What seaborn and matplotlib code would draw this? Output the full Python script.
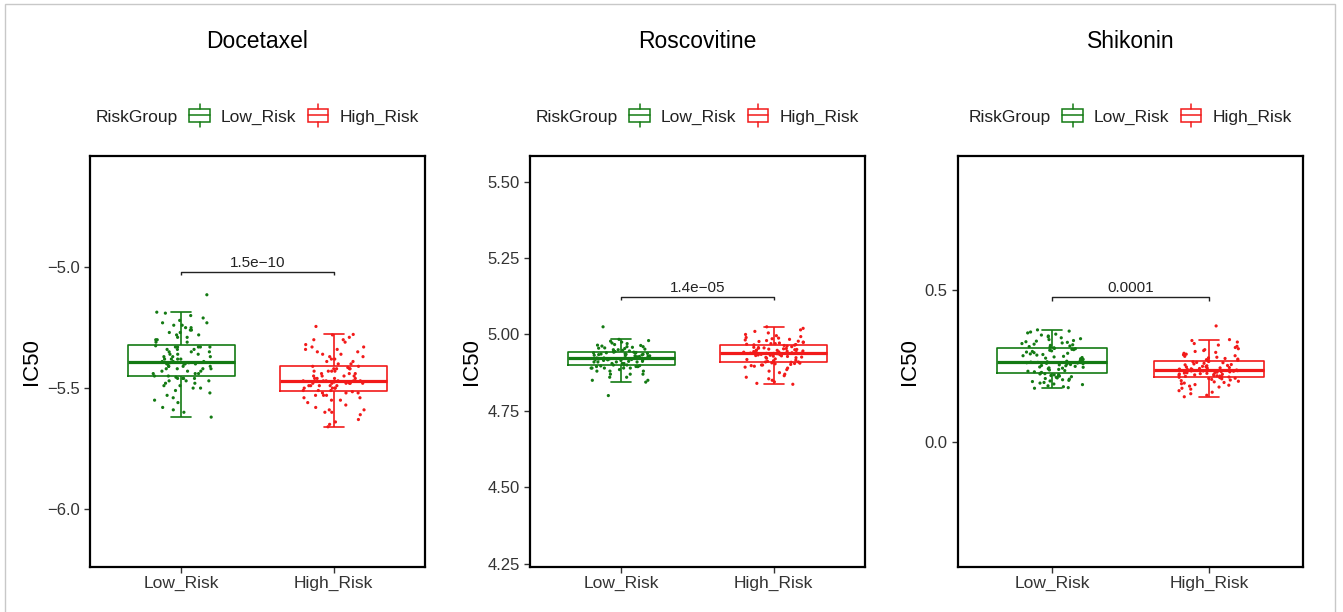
import numpy as np
import pandas as pd
import matplotlib
matplotlib.use("Agg")
import matplotlib.pyplot as plt
import seaborn as sns
from matplotlib.legend_handler import HandlerBase
from matplotlib.patches import Rectangle, Patch
from matplotlib.lines import Line2D
from matplotlib.ticker import FuncFormatter

sns.set_theme(style="white")
plt.rcParams["font.family"] = ["Liberation Sans", "DejaVu Sans"]

# ---------------- data ----------------
drugs = ["Docetaxel", "Roscovitine", "Shikonin"]
groups = ["Low_Risk", "High_Risk"]

docetaxel_low = [
    -5.62, -5.60, -5.59, -5.58, -5.56, -5.55, -5.54, -5.53, -5.52, -5.51, -5.50, -5.50,
    -5.49, -5.49, -5.48, -5.48, -5.47, -5.47, -5.47, -5.46, -5.46, -5.46, -5.46, -5.455,
    -5.45, -5.45, -5.44, -5.44, -5.44, -5.43, -5.43, -5.43, -5.42, -5.42, -5.42, -5.42,
    -5.41, -5.41, -5.41, -5.41, -5.40, -5.40, -5.40, -5.40, -5.40, -5.395, -5.395, -5.39,
    -5.39, -5.39, -5.38, -5.38, -5.38, -5.38, -5.37, -5.37, -5.37, -5.36, -5.36, -5.36,
    -5.35, -5.35, -5.35, -5.34, -5.34, -5.34, -5.33, -5.33, -5.33, -5.33, -5.33, -5.325,
    -5.31, -5.31, -5.30, -5.30, -5.29, -5.29, -5.28, -5.28, -5.27, -5.27, -5.26, -5.26,
    -5.25, -5.25, -5.24, -5.24, -5.23, -5.23, -5.22, -5.21, -5.20, -5.19, -5.186, -5.114,
]
docetaxel_high = [
    -5.66, -5.65, -5.64, -5.63, -5.61, -5.60, -5.60, -5.59, -5.59, -5.58, -5.57, -5.56,
    -5.55, -5.55, -5.54, -5.54, -5.53, -5.53, -5.53, -5.52, -5.52, -5.52, -5.515, -5.51,
    -5.51, -5.51, -5.50, -5.50, -5.50, -5.50, -5.49, -5.49, -5.49, -5.49, -5.49, -5.48,
    -5.48, -5.48, -5.48, -5.48, -5.48, -5.475, -5.475, -5.475, -5.47, -5.47, -5.47, -5.47,
    -5.47, -5.47, -5.46, -5.46, -5.46, -5.46, -5.45, -5.45, -5.45, -5.45, -5.44, -5.44,
    -5.44, -5.43, -5.43, -5.43, -5.43, -5.42, -5.42, -5.42, -5.42, -5.415, -5.41, -5.41,
    -5.40, -5.40, -5.39, -5.39, -5.38, -5.38, -5.37, -5.37, -5.36, -5.36, -5.35, -5.35,
    -5.34, -5.34, -5.33, -5.33, -5.32, -5.31, -5.30, -5.30, -5.29, -5.28, -5.278, -5.245,
]
roscovitine_low = [
    4.80, 4.844, 4.85, 4.85, 4.86, 4.86, 4.87, 4.87, 4.87, 4.88, 4.88, 4.88,
    4.885, 4.89, 4.89, 4.89, 4.89, 4.89, 4.895, 4.895, 4.895, 4.895, 4.897, 4.898,
    4.90, 4.90, 4.90, 4.905, 4.905, 4.905, 4.91, 4.91, 4.91, 4.91, 4.912, 4.912,
    4.915, 4.915, 4.915, 4.917, 4.918, 4.918, 4.92, 4.92, 4.92, 4.921, 4.922, 4.923,
    4.923, 4.924, 4.925, 4.926, 4.927, 4.928, 4.929, 4.93, 4.93, 4.931, 4.932, 4.933,
    4.934, 4.935, 4.935, 4.936, 4.937, 4.938, 4.939, 4.94, 4.94, 4.941, 4.942, 4.942,
    4.944, 4.945, 4.946, 4.948, 4.95, 4.95, 4.952, 4.954, 4.955, 4.956, 4.958, 4.96,
    4.96, 4.962, 4.964, 4.965, 4.967, 4.97, 4.972, 4.975, 4.978, 4.98, 4.984, 5.025,
]
roscovitine_high = [
    4.837, 4.84, 4.845, 4.85, 4.855, 4.86, 4.865, 4.87, 4.875, 4.88, 4.885, 4.89,
    4.893, 4.896, 4.898, 4.90, 4.90, 4.902, 4.904, 4.905, 4.906, 4.907, 4.909, 4.91,
    4.91, 4.912, 4.914, 4.916, 4.918, 4.92, 4.922, 4.924, 4.925, 4.926, 4.928, 4.929,
    4.93, 4.931, 4.932, 4.933, 4.934, 4.935, 4.936, 4.937, 4.937, 4.938, 4.938, 4.939,
    4.939, 4.94, 4.941, 4.942, 4.943, 4.944, 4.945, 4.946, 4.947, 4.948, 4.949, 4.95,
    4.951, 4.952, 4.953, 4.954, 4.955, 4.956, 4.957, 4.958, 4.96, 4.962, 4.964, 4.965,
    4.966, 4.967, 4.968, 4.97, 4.97, 4.972, 4.974, 4.975, 4.977, 4.978, 4.98, 4.982,
    4.984, 4.986, 4.988, 4.99, 4.993, 4.996, 5.0, 5.005, 5.01, 5.015, 5.02, 5.025,
]
shikonin_low = [
    0.178, 0.18, 0.183, 0.186, 0.19, 0.192, 0.195, 0.197, 0.2, 0.202, 0.204, 0.206,
    0.208, 0.21, 0.212, 0.214, 0.216, 0.218, 0.219, 0.22, 0.222, 0.223, 0.225, 0.226,
    0.228, 0.23, 0.232, 0.234, 0.236, 0.238, 0.24, 0.242, 0.244, 0.245, 0.247, 0.248,
    0.25, 0.252, 0.253, 0.255, 0.256, 0.258, 0.259, 0.26, 0.261, 0.262, 0.263, 0.264,
    0.265, 0.267, 0.269, 0.271, 0.273, 0.275, 0.277, 0.279, 0.281, 0.283, 0.285, 0.287,
    0.289, 0.291, 0.293, 0.295, 0.297, 0.299, 0.301, 0.303, 0.305, 0.306, 0.308, 0.309,
    0.311, 0.313, 0.315, 0.317, 0.319, 0.321, 0.323, 0.325, 0.327, 0.329, 0.331, 0.333,
    0.335, 0.338, 0.341, 0.344, 0.347, 0.35, 0.353, 0.356, 0.36, 0.363, 0.366, 0.37,
]
shikonin_high = [
    0.15, 0.155, 0.16, 0.165, 0.17, 0.175, 0.178, 0.182, 0.185, 0.188, 0.19, 0.193,
    0.195, 0.197, 0.199, 0.201, 0.203, 0.205, 0.207, 0.209, 0.21, 0.211, 0.213, 0.214,
    0.215, 0.216, 0.217, 0.218, 0.219, 0.22, 0.221, 0.222, 0.223, 0.224, 0.225, 0.226,
    0.227, 0.228, 0.229, 0.23, 0.231, 0.232, 0.232, 0.233, 0.234, 0.235, 0.235, 0.236,
    0.237, 0.238, 0.239, 0.24, 0.241, 0.242, 0.243, 0.244, 0.245, 0.246, 0.248, 0.249,
    0.25, 0.252, 0.253, 0.255, 0.256, 0.258, 0.26, 0.262, 0.263, 0.265, 0.266, 0.268,
    0.27, 0.272, 0.274, 0.276, 0.278, 0.28, 0.283, 0.285, 0.288, 0.29, 0.293, 0.296,
    0.299, 0.302, 0.305, 0.308, 0.312, 0.316, 0.32, 0.325, 0.33, 0.335, 0.338, 0.383,
]

pvalues = ["1.5e\u221210", "1.4e\u221205", "0.0001"]
bracket_y = [-5.02, 5.122, 0.477]
yticks = [[-6.0, -5.5, -5.0], [4.25, 4.50, 4.75, 5.00, 5.25, 5.50], [0.0, 0.5]]
ytick_fmt = ["{:.1f}", "{:.2f}", "{:.1f}"]
ylims = [(-6.24, -4.54), (4.239, 5.584), (-0.41, 0.942)]

series = {
    "Docetaxel": (docetaxel_low, docetaxel_high),
    "Roscovitine": (roscovitine_low, roscovitine_high),
    "Shikonin": (shikonin_low, shikonin_high),
}

colors = {"Low_Risk": "#137A13", "High_Risk": "#F21A1A"}

# ---------------- layout (pixels) ----------------
W, H = 1343, 612
fig = plt.figure(figsize=(W / 100, H / 100), dpi=100)
fig.patch.set_facecolor("white")

axes_px = [(90, 425), (530, 865), (958, 1303)]
ax_top, ax_bot = 156, 567
ylabel_right_px = [42, 482, 920]
title_y_px = 42
legend_y_px = 117


class BoxHandler(HandlerBase):
    def create_artists(self, legend, orig_handle, xdescent, ydescent,
                       width, height, fontsize, trans):
        c = orig_handle.get_edgecolor()
        x0, y0 = -xdescent, -ydescent
        w, h = width, height
        rect = Rectangle((x0, y0 + 0.0 * h), w, 1.0 * h, fill=False,
                         edgecolor=c, linewidth=1.1, transform=trans)
        med = Line2D([x0, x0 + w], [y0 + 0.5 * h] * 2, color=c, lw=1.1,
                     transform=trans)
        wt = Line2D([x0 + w / 2] * 2, [y0 + 1.0 * h, y0 + 1.45 * h], color=c,
                    lw=1.1, transform=trans)
        wb = Line2D([x0 + w / 2] * 2, [y0, y0 - 0.45 * h], color=c,
                    lw=1.1, transform=trans)
        return [rect, med, wt, wb]


class EmptyHandler(HandlerBase):
    def create_artists(self, legend, orig_handle, xdescent, ydescent,
                       width, height, fontsize, trans):
        ln = Line2D([0], [0], color="none", transform=trans)
        ln.set_visible(False)
        return [ln]


for i, drug in enumerate(drugs):
    l_px, r_px = axes_px[i]
    ax_h = ax_bot - ax_top
    ax = fig.add_axes([l_px / W, (H - ax_bot) / H, (r_px - l_px) / W, ax_h / H])
    low, high = series[drug]
    df = pd.DataFrame({
        "RiskGroup": ["Low_Risk"] * len(low) + ["High_Risk"] * len(high),
        "IC50": list(low) + list(high),
    })
    sns.boxplot(data=df, x="RiskGroup", y="IC50", hue="RiskGroup",
                order=groups, hue_order=groups, palette=colors, fill=False,
                width=0.7, showfliers=False, linewidth=1.2, legend=False,
                whis=1.5, capwidths=0.13,
                medianprops={"linewidth": 2.3}, ax=ax)
    sns.stripplot(data=df, x="RiskGroup", y="IC50", hue="RiskGroup",
                  order=groups, hue_order=groups, palette=colors,
                  jitter=0.2, size=2.3, linewidth=0, legend=False, ax=ax,
                  zorder=3)

    ax.set_xlim(-0.6, 1.6)
    ax.set_ylim(*ylims[i])
    ax.set_yticks(yticks[i])
    fmt = ytick_fmt[i]
    ax.yaxis.set_major_formatter(
        FuncFormatter(lambda v, p, fmt=fmt: fmt.format(v).replace("-", "\u2212")))
    ax.set_xlabel("")
    ax.set_ylabel("IC50", fontsize=16, color="black")
    ax.yaxis.set_label_coords((ylabel_right_px[i] - l_px) / (r_px - l_px), 0.5)
    ax.tick_params(axis="both", which="major", direction="out", length=4,
                   width=1, color="#333333", labelcolor="#333333",
                   left=True, bottom=True)
    ax.tick_params(axis="x", labelsize=12.5, pad=2.5)
    ax.tick_params(axis="y", labelsize=12, pad=3.5)
    for s in ax.spines.values():
        s.set_visible(True)
        s.set_color("black")
        s.set_linewidth(1.6)
    ax.grid(False)

    # p-value bracket
    yb = bracket_y[i]
    span = ylims[i][1] - ylims[i][0]
    tick = span * 0.008
    ax.plot([0, 0, 1, 1], [yb - tick, yb, yb, yb - tick], color="#222222",
            lw=1.0, solid_capstyle="butt", zorder=4)
    ax.annotate(pvalues[i], xy=(0.5, yb), xytext=(0, 1.5),
                textcoords="offset points", ha="center", va="bottom",
                fontsize=11, color="#222222")

    # title
    fig.text((l_px + r_px) / 2 / W, 1 - title_y_px / H, drug, ha="center",
             va="center", fontsize=16.5, color="black")

    # legend with inline title
    handles = [Patch(facecolor="none", edgecolor="none"),
               Patch(facecolor="none", edgecolor=colors["Low_Risk"]),
               Patch(facecolor="none", edgecolor=colors["High_Risk"])]
    labels = ["RiskGroup", "Low_Risk", "High_Risk"]
    shift = 16 / (r_px - l_px)
    leg = ax.legend(handles, labels, ncol=3, loc="center",
                    bbox_to_anchor=(0.5 - shift, 1 + (ax_top - legend_y_px) / ax_h),
                    frameon=False, fontsize=12.5, handlelength=1.2,
                    handleheight=0.7, handletextpad=0.63, columnspacing=0.63,
                    handler_map={handles[0]: EmptyHandler(), handles[1]: BoxHandler(),
                                 handles[2]: BoxHandler()})
    for t in leg.get_texts():
        t.set_color("#222222")

# light grey outer frame
fig.add_artist(Rectangle((5 / W, -0.05), 1330 / W, 1.05 - 4 / H,
                         transform=fig.transFigure, fill=False,
                         edgecolor="#C8C8C8", linewidth=1.0))

fig.savefig("out.png", dpi=100, facecolor="white")
